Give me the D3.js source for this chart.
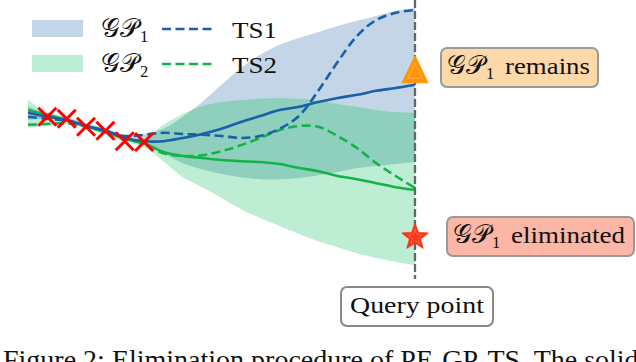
<!DOCTYPE html>
<html>
<head>
<meta charset="utf-8">
<script src="https://cdn.jsdelivr.net/npm/d3@7"></script>
<style>
  html, body { margin: 0; padding: 0; background: #fff; }
  svg { display: block; }
</style>
</head>
<body>
<svg id="chart" width="636" height="362"></svg>
<script>
// ---- data (x in arbitrary input units, y in function units) ----
const xGrid = [0,0.5,1,1.5,2,2.5,3,3.5,4,4.5,5,5.5,6,6.5,7,7.5,8,8.5,9,9.5,10];
const gp1Mean  = [0.68,0.58,0.50,0.35,0.23,0.05,-0.03,-0.03,0.05,0.15,0.28,0.45,0.60,0.75,0.83,0.95,1.05,1.13,1.23,1.30,1.38];
const gp1Upper = [0.85,0.63,0.55,0.40,0.28,0.12,0.15,0.28,0.58,0.95,1.38,1.80,2.13,2.38,2.55,2.70,2.85,2.98,3.10,3.23,3.30];
const gp1Lower = [0.50,0.53,0.45,0.30,0.18,0.00,-0.10,-0.33,-0.58,-0.73,-0.85,-0.93,-0.98,-0.98,-0.95,-0.88,-0.80,-0.70,-0.65,-0.60,-0.55];
const ts1      = [0.58,0.53,0.48,0.35,0.23,0.10,0.13,0.18,0.15,0.13,0.10,0.05,0.10,0.28,0.60,1.23,1.95,2.60,3.00,3.18,3.25];
const gp2Mean  = [0.75,0.63,0.50,0.35,0.20,0.03,-0.08,-0.30,-0.40,-0.45,-0.50,-0.53,-0.55,-0.60,-0.70,-0.78,-0.90,-0.98,-1.08,-1.18,-1.25];
const gp2Upper = [1.00,0.70,0.58,0.43,0.28,0.10,0.03,0.38,0.65,0.85,0.95,1.00,1.03,1.05,1.03,0.98,0.90,0.83,0.75,0.70,0.68];
const gp2Lower = [0.30,0.36,0.40,0.28,0.13,-0.05,-0.18,-0.53,-0.93,-1.18,-1.45,-1.73,-1.95,-2.15,-2.35,-2.53,-2.68,-2.83,-2.95,-3.05,-3.13];
const ts2      = [0.38,0.40,0.42,0.33,0.20,0.03,-0.10,-0.33,-0.40,-0.38,-0.28,-0.13,0.05,0.25,0.35,0.33,0.10,-0.20,-0.58,-0.90,-1.20];
const obsX = [0.5,1.0,1.5,2.0,2.5,3.0];
const obsY = [0.58,0.53,0.33,0.23,-0.03,-0.05];
const queryX = 10;
const remainsY = 1.68;      // triangle marker
const eliminatedY = -2.43;  // star marker
const legendLabels = ["TS1", "TS2"];
const caption = "Figure 2: Elimination procedure of PE-GP-TS. The solid";

// ---- style ----
const FONT = "'Liberation Serif', 'DejaVu Serif', serif";
const C = {
  blue: "#1a5fa8", green: "#14b347",
  band1: "#c3d5e6", band2: "#bdedd2", overlap: "#8ecfbe",
  cross: "#ff0000", orange: "#ff9608", star: "#ff3316",
  gray: "#666"
};

const svg = d3.select("#chart");
const x = d3.scaleLinear().domain([0, 10]).range([28, 415]);
const y = d3.scaleLinear().domain([-3.5, 3.5]).range([280, 0]);
const curve = d3.curveCatmullRom.alpha(0.5);

const band = (up, lo) => d3.area().curve(curve)
  .x((d, i) => x(xGrid[i])).y0((d, i) => y(lo[i])).y1((d, i) => y(up[i]))(xGrid);
const line = arr => d3.line().curve(curve)
  .x((d, i) => x(xGrid[i])).y((d, i) => y(arr[i]))(xGrid);

const defs = svg.append("defs");
defs.append("clipPath").attr("id", "clip1").append("path").attr("d", band(gp1Upper, gp1Lower));

svg.append("path").attr("d", band(gp1Upper, gp1Lower)).attr("fill", C.band1);
svg.append("path").attr("d", band(gp2Upper, gp2Lower)).attr("fill", C.band2);
svg.append("path").attr("d", band(gp2Upper, gp2Lower)).attr("fill", C.overlap).attr("clip-path", "url(#clip1)");

// lines
svg.append("path").attr("d", line(gp2Mean)).attr("fill", "none").attr("stroke", C.green).attr("stroke-width", 2.6);
svg.append("path").attr("d", line(ts2)).attr("fill", "none").attr("stroke", C.green).attr("stroke-width", 2.6).attr("stroke-dasharray", "9,4.5");
svg.append("path").attr("d", line(gp1Mean)).attr("fill", "none").attr("stroke", C.blue).attr("stroke-width", 2.6);
svg.append("path").attr("d", line(ts1)).attr("fill", "none").attr("stroke", C.blue).attr("stroke-width", 2.6).attr("stroke-dasharray", "9,4.5");

// observations (crosses)
const cs = 9;
svg.append("g").selectAll("path").data(obsX).join("path")
  .attr("d", (d, i) => {
    const cx = x(d), cy = y(obsY[i]);
    return `M${cx-cs},${cy-cs}L${cx+cs},${cy+cs}M${cx-cs},${cy+cs}L${cx+cs},${cy-cs}`;
  })
  .attr("stroke", C.cross).attr("stroke-width", 3).attr("fill", "none");

// query line
svg.append("line").attr("x1", x(queryX)).attr("x2", x(queryX)).attr("y1", 0).attr("y2", 279)
  .attr("stroke", C.gray).attr("stroke-width", 2.3).attr("stroke-dasharray", "8,3");

// triangle marker
{
  const cx = x(queryX), cy = y(remainsY);
  const tri = (s) => `M${cx},${cy - 17*s}L${cx + 13*s},${cy + 10*s}L${cx - 13*s},${cy + 10*s}Z`;
  svg.append("path").attr("d", tri(1)).attr("fill", C.orange).attr("stroke", C.orange).attr("stroke-width", 1).attr("stroke-linejoin", "round");
  svg.append("path").attr("d", tri(0.55)).attr("fill", "none").attr("stroke", "#ffd9a0").attr("stroke-width", 0.7).attr("stroke-dasharray", "1,1");
}
// star marker
{
  const cx = x(queryX), cy = y(eliminatedY);
  const star = (R, r) => {
    const pts = [];
    for (let k = 0; k < 10; k++) {
      const a = -Math.PI / 2 + k * Math.PI / 5;
      const rad = k % 2 === 0 ? R : r;
      pts.push([cx + rad * Math.cos(a), cy + rad * Math.sin(a)]);
    }
    return "M" + pts.map(p => p.join(",")).join("L") + "Z";
  };
  svg.append("path").attr("d", star(13.5, 5.6)).attr("fill", C.star).attr("stroke", C.star).attr("stroke-width", 1.2).attr("stroke-linejoin", "round");
  svg.append("path").attr("d", star(7.5, 3.1)).attr("fill", "none").attr("stroke", "#ffb0a0").attr("stroke-width", 0.7).attr("stroke-dasharray", "1,1");
}

// ---- text helpers ----
// plain serif text, horizontally scaled to a target width (CM is wider than Times)
function fitText(g, txt, xPos, yPos, size, width) {
  const t = g.append("text").attr("x", xPos).attr("y", yPos)
    .attr("font-family", FONT).attr("font-size", size).attr("fill", "#111").text(txt);
  if (width) {
    const w = t.node().getComputedTextLength();
    if (w > 0) t.attr("transform", `translate(${xPos},0) scale(${width / w},1) translate(${-xPos},0)`);
  }
  return t;
}
function gpLabel(g, xPos, yPos, size, sub) {
  const t = g.append("text").attr("x", xPos).attr("y", yPos)
    .attr("font-family", FONT).attr("font-size", size + 3).attr("fill", "#111");
  t.append("tspan").text("𝒢𝒫");
  t.append("tspan").attr("font-size", size * 0.72).attr("dx", 1).attr("dy", size * 0.22).text(sub);
  return t;
}

// legend
const lg = svg.append("g");
lg.append("rect").attr("x", 32).attr("y", 20).attr("width", 51).attr("height", 17).attr("fill", C.band1);
lg.append("rect").attr("x", 32).attr("y", 55).attr("width", 51).attr("height", 17).attr("fill", C.band2);
gpLabel(lg, 101, 37, 23, "1");
gpLabel(lg, 101, 72, 23, "2");
lg.append("line").attr("x1", 162).attr("x2", 212).attr("y1", 29).attr("y2", 29)
  .attr("stroke", C.blue).attr("stroke-width", 2.6).attr("stroke-dasharray", "9,4.5");
lg.append("line").attr("x1", 162).attr("x2", 212).attr("y1", 64).attr("y2", 64)
  .attr("stroke", C.green).attr("stroke-width", 2.6).attr("stroke-dasharray", "9,4.5");
fitText(lg, legendLabels[0], 232, 38, 23, 45);
fitText(lg, legendLabels[1], 232, 73, 23, 45);

// annotation boxes
const ann = svg.append("g");
ann.append("rect").attr("x", 441).attr("y", 48).attr("width", 157).attr("height", 39).attr("rx", 6)
  .attr("fill", "#fdd9a9").attr("stroke", "#999").attr("stroke-width", 2);
gpLabel(ann, 447, 74, 23, "1");
fitText(ann, "remains", 505, 74, 23, 85);

ann.append("rect").attr("x", 447).attr("y", 217).attr("width", 187).attr("height", 39).attr("rx", 6)
  .attr("fill", "#fbb6a6").attr("stroke", "#999").attr("stroke-width", 2);
gpLabel(ann, 453, 243, 23, "1");
fitText(ann, "eliminated", 511, 243, 23, 114);

ann.append("rect").attr("x", 341).attr("y", 287).attr("width", 152).attr("height", 39).attr("rx", 6)
  .attr("fill", "#fff").attr("stroke", "#888").attr("stroke-width", 2);
fitText(ann, "Query point", 350, 313, 23, 134);

// caption (cut off at bottom like the reference)
svg.append("text").attr("x", 3).attr("y", 369)
  .attr("font-family", FONT).attr("font-size", 28).attr("fill", "#111").text(caption);
</script>
</body>
</html>
